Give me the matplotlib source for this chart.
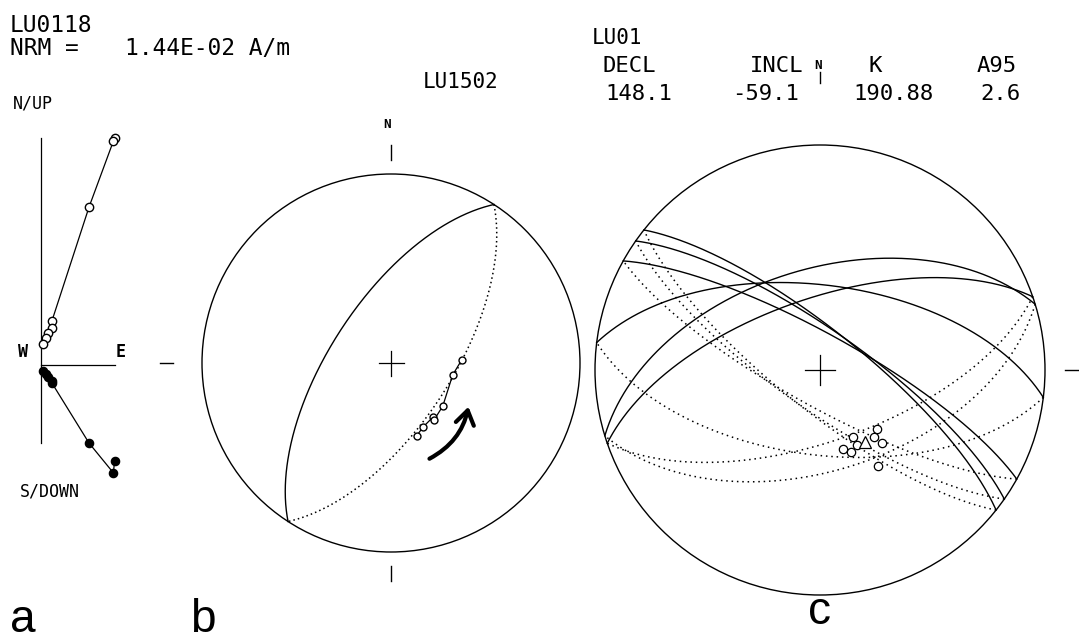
""" paleomagnetic demagnetisation figure: vector plot + two equal-area nets """
import numpy as np
import matplotlib.pyplot as plt
from matplotlib.patches import Circle, FancyArrowPatch

W, H = 1079, 643
MONO = 'DejaVu Sans Mono'

# a: orthogonal projection of LU0118 (components in mA/m, NRM first)
zij_east = [4.04, 3.98, 2.64, 0.60, 0.60, 0.38, 0.30, 0.11]
zij_north = [-5.27, -5.93, -4.29, -0.99, -0.88, -0.66, -0.49, -0.33]
zij_up = [12.47, 12.31, 8.68, 2.42, 2.03, 1.76, 1.48, 1.15]
sample_a = 'LU0118'
nrm_text = '1.44E-02 A/m'

# b: LU1502 directions (upper hemisphere) and remagnetisation circle
sample_b = 'LU1502'
b_dec = [160.6, 153.5, 142.2, 143.0, 129.8, 100.9, 87.5]
b_inc = [-56.4, -58.9, -60.3, -59.0, -60.8, -62.8, -59.3]
b_circle_dd = [303]
b_circle_dip = [64]

# c: site LU01, sample directions, remagnetisation circles, mean
site_c = 'LU01'
c_dec = [153.7, 163.8, 159.2, 153.8, 136.0, 141.2, 139.6, 148.9]
c_inc = [-62.8, -60.0, -58.0, -59.5, -60.1, -58.7, -54.9, -48.7]
c_circle_dd = [38.5, 35, 29, 7, 343, 341]
c_circle_dip = [75.5, 75.5, 77, 59, 53, 64]
site_decl, site_incl, site_k, site_a95 = 148.1, -59.1, 190.88, 2.6


def px_axes(fig, x0, y0, x1, y1):
    """ axes placed by a pixel box (y measured from the top) """
    ax = fig.add_axes([x0 / W, 1 - y1 / H, (x1 - x0) / W, (y1 - y0) / H])
    ax.axis('off')
    return ax


def eqarea(dec, inc):
    dec = np.radians(np.asarray(dec, float))
    inc = np.radians(np.abs(np.asarray(inc, float)))
    r = np.sqrt(2) * np.sin((np.pi / 2 - inc) / 2)
    return r * np.sin(dec), r * np.cos(dec)


def great_circle(ax, dd, dip, lw=1.0, dots=(0, (1, 2.5))):
    """ lower half solid, upper half dotted """
    dd, dip = np.radians(dd), np.radians(dip)
    s = np.array([np.cos(dd - np.pi / 2), np.sin(dd - np.pi / 2), 0])
    d = np.array([np.cos(dip) * np.cos(dd), np.cos(dip) * np.sin(dd), np.sin(dip)])
    for t0, ls in [(0, '-'), (np.pi, dots)]:
        t = np.linspace(t0, t0 + np.pi, 300)
        v = np.outer(np.cos(t), s) + np.outer(np.sin(t), d)
        dec = np.degrees(np.arctan2(v[:, 1], v[:, 0]))
        inc = np.degrees(np.arcsin(np.clip(v[:, 2], -1, 1)))
        x, y = eqarea(dec, inc)
        ax.plot(x, y, color='k', lw=lw if ls == '-' else 1.1, ls=ls)


def stereo_axes(fig, cx, cy, R, half, cross):
    ax = px_axes(fig, cx - half, cy - half, cx + half, cy + half)
    lim = half / R
    ax.set_xlim(-lim, lim)
    ax.set_ylim(-lim, lim)
    ax.add_patch(Circle((0, 0), 1, fill=False, lw=1.0, color='k'))
    c = cross / R
    ax.plot([-c, c], [0, 0], 'k', lw=0.9)
    ax.plot([0, 0], [-c, c], 'k', lw=0.9)
    return ax


fig = plt.figure(figsize=(W / 100, H / 100), dpi=100)
over = px_axes(fig, 0, 0, W, H)
over.set_xlim(0, W)
over.set_ylim(H, 0)

# ---------------- a
org_x, org_y, scale = 41, 365, 18.2     # origin pixel, px per mA/m
axa = px_axes(fig, 0, 90, 180, 500)
axa.set_xlim(-org_x / scale, (180 - org_x) / scale)
axa.set_ylim((org_y - 500) / scale, (org_y - 90) / scale)
axa.plot([0, 0], [-4.3, max(zij_up)], 'k', lw=0.9)
axa.plot([0, max(zij_east)], [0, 0], 'k', lw=0.9)
axa.plot(zij_east, zij_up, 'k-', lw=0.9, marker='o', ms=6, mfc='white', mew=1.0)
axa.plot(zij_east, zij_north, 'k-', lw=0.9, marker='o', ms=6, mfc='k', mew=0.9)

over.text(10, 32, sample_a, fontsize=16.5, family=MONO)
over.text(10, 55, 'NRM =', fontsize=16.5, family=MONO)
over.text(125, 55, nrm_text, fontsize=16.5, family=MONO)
over.text(13, 108, 'N/UP', fontsize=12, family=MONO)
over.text(20, 497, 'S/DOWN', fontsize=12, family=MONO)
over.text(18, 357, 'W', fontsize=12, family=MONO, weight='bold')
over.text(116, 357, 'E', fontsize=12, family=MONO, weight='bold')

# ---------------- b
axb = stereo_axes(fig, 391, 363, 189, 240, 12.5)
for dd, dip in zip(b_circle_dd, b_circle_dip):
    great_circle(axb, dd, dip, dots=(0, (1, 2)))
bx, by = eqarea(b_dec, b_inc)
axb.plot(bx, by, 'k-', lw=0.9, marker='o', ms=5, mfc='white', mew=1.0)
axb.plot([0, 0], [1.074, 1.153], 'k', lw=1)
axb.plot([0, 0], [-1.074, -1.153], 'k', lw=1)
axb.plot([-1.153, -1.222], [0, 0], 'k', lw=1)
over.text(423, 88, sample_b, fontsize=15, family=MONO)
over.text(387, 128, 'N', fontsize=9, family=MONO, ha='center', weight='bold')
over.add_patch(FancyArrowPatch((427, 460), (469, 404), connectionstyle='arc3,rad=0.25',
                               arrowstyle='->,head_length=0.45,head_width=0.3',
                               mutation_scale=22, lw=3, color='k'))

# ---------------- c
axc = stereo_axes(fig, 820, 370, 225, 310, 15)
for dd, dip in zip(c_circle_dd, c_circle_dip):
    great_circle(axc, dd, dip)
cx, cy = eqarea(c_dec, c_inc)
axc.plot(cx, cy, 'o', ls='none', ms=6, mfc='white', mec='k', mew=0.9)
mx, my = eqarea(site_decl, site_incl)
axc.plot(mx, my, '^', ms=9, mfc='white', mec='k', mew=0.9)
axc.plot([0, 0], [1.276, 1.324], 'k', lw=1)
axc.plot([1.09, 1.15], [0, 0], 'k', lw=1)

over.text(592, 44, site_c, fontsize=15, family=MONO)
heads = ['DECL', 'INCL', 'K', 'A95']
vals = [f'{site_decl:.1f}', f'{site_incl:.1f}', f'{site_k:.2f}', f'{site_a95:.1f}']
for hx, vx, h, v in zip([603, 750, 868, 977], [605, 732, 853, 980], heads, vals):
    over.text(hx, 72, h, fontsize=16, family=MONO)
    over.text(vx, 100, v, fontsize=16, family=MONO)
over.text(818, 69, 'N', fontsize=9, family=MONO, ha='center', weight='bold')

# panel letters
for x, y, s in [(10, 632, 'a'), (190, 632, 'b'), (808, 624, 'c')]:
    over.text(x, y, s, fontsize=33, family='Liberation Sans')

fig.savefig('out.png', dpi=100, facecolor='white')
